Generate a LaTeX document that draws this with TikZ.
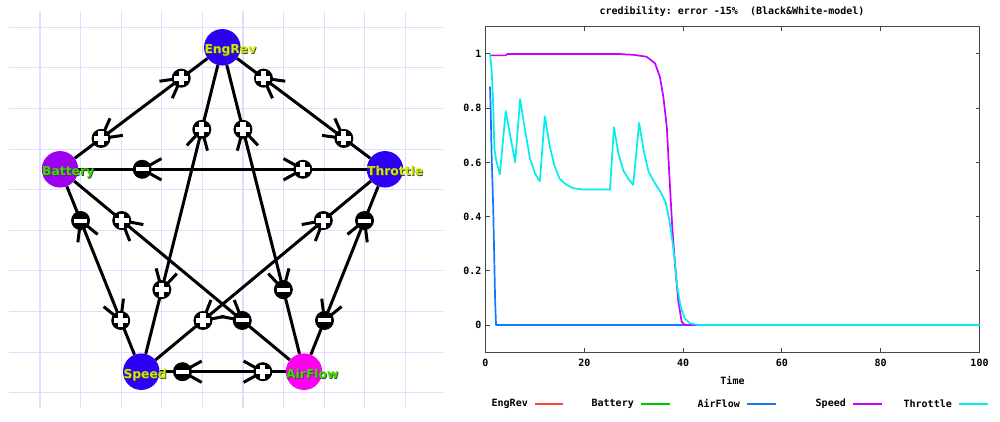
\documentclass[tikz,border=0pt]{standalone}
\usepackage{fontspec}
\setmainfont{DejaVu Sans}
\newfontfamily\lblfont{DejaVu Sans}
\newfontfamily\plotfont{DejaVu Sans Mono}
\usetikzlibrary{calc}

\definecolor{gridc}{RGB}{222,222,255}
\definecolor{nblue}{RGB}{45,0,245}
\definecolor{npurple}{RGB}{160,0,240}
\definecolor{nmag}{RGB}{255,0,240}
\definecolor{lyel}{RGB}{210,235,0}
\definecolor{lgrn}{RGB}{60,220,0}
\definecolor{legred}{RGB}{255,64,64}
\definecolor{leggreen}{RGB}{0,200,0}
\definecolor{cblue}{RGB}{20,120,255}
\definecolor{cpurple}{RGB}{200,0,255}
\definecolor{ccyan}{RGB}{0,238,238}
\definecolor{framec}{RGB}{70,70,70}

\tikzset{
  var/.style={circle, minimum size=36.5pt, inner sep=0pt, fill=#1},
  vlabel/.style={anchor=base west, inner sep=0pt,
    font=\lblfont\bfseries\fontsize{12.3}{14}\selectfont, text=#1},
  link/.style={line width=3pt},
  barb/.style={line width=3pt},
  plusm/.style={circle, fill=black, minimum size=19pt, inner sep=0pt,
    path picture={
      \fill[white] ([xshift=-7pt,yshift=-2.6pt]path picture bounding box.center)
        rectangle ([xshift=7pt,yshift=2.6pt]path picture bounding box.center);
      \fill[white] ([xshift=-2.6pt,yshift=-7pt]path picture bounding box.center)
        rectangle ([xshift=2.6pt,yshift=7pt]path picture bounding box.center);
    }},
  minusm/.style={circle, fill=black, minimum size=19pt, inner sep=0pt,
    path picture={
      \fill[white] ([xshift=-6.5pt,yshift=-2pt]path picture bounding box.center)
        rectangle ([xshift=6.5pt,yshift=2pt]path picture bounding box.center);
    }},
  gridline/.style={gridc, line width=1.1pt},
  ptext/.style={inner sep=0pt, font=\plotfont\bfseries\fontsize{10}{12}\selectfont},
  curve/.style={line width=1.7pt, line join=round},
  legline/.style={line width=2pt, draw=#1},
}

\newcommand\vlab[3]{%
  \node[vlabel=black!75] (#1-sh) at ([xshift=-17.2pt,yshift=-7.4pt]#1.center) {#2};
  \node[vlabel=#3] (#1-lb) at ([xshift=-18pt,yshift=-6.5pt]#1.center) {#2};
}
% #1 target, #2 source, #3 marker style, #4 name
\newcommand\sgnmark[4]{%
  \coordinate (#4) at ($(#1)!0.253!(#2)$);
  \draw[barb] ($(#4)!22pt!29:(#2)$) -- (#4) -- ($(#4)!22pt!-29:(#2)$);
  \node[#3] (#4m) at (#4) {};
}

\begin{document}
\begin{tikzpicture}[x=1pt, y=-1pt]
\useasboundingbox (0,0) rectangle (1000,422);
\fill[white] (0,0) rectangle (1000,422);

% grid
\foreach \k in {0,...,9} {
  \draw[gridline] ({40+40.6*\k},11) -- ({40+40.6*\k},408);
  \draw[gridline] (9,{27.3+40.6*\k}) -- (443,{27.3+40.6*\k});
}

% variables
\node[var=nblue]   (eng) at (222.3,47.3) {};
\node[var=npurple] (bat) at (60,169.3) {};
\node[var=nblue]   (thr) at (385,169.3) {};
\node[var=nblue]   (spd) at (141.3,371.7) {};
\node[var=nmag]    (air) at (304,371.7) {};

% connectors
\draw[link] (eng) -- (bat);
\draw[link] (eng) -- (thr);
\draw[link] (bat) -- (thr);
\draw[link] (eng) -- (spd);
\draw[link] (eng) -- (air);
\draw[link] (bat) -- (spd);
\draw[link] (bat) -- (air);
\draw[link] (thr) -- (spd);
\draw[link] (thr) -- (air);
\draw[link] (spd) -- (air);

% sign markers
\sgnmark{eng}{bat}{plusm}{s1}
\sgnmark{bat}{eng}{plusm}{s2}
\sgnmark{eng}{thr}{plusm}{s3}
\sgnmark{thr}{eng}{plusm}{s4}
\sgnmark{bat}{thr}{minusm}{s5}
\sgnmark{thr}{bat}{plusm}{s6}
\sgnmark{eng}{spd}{plusm}{s7}
\sgnmark{spd}{eng}{plusm}{s8}
\sgnmark{eng}{air}{plusm}{s9}
\sgnmark{air}{eng}{minusm}{s10}
\sgnmark{bat}{spd}{minusm}{s11}
\sgnmark{spd}{bat}{plusm}{s12}
\sgnmark{bat}{air}{plusm}{s13}
\sgnmark{air}{bat}{minusm}{s14}
\sgnmark{thr}{spd}{plusm}{s15}
\sgnmark{spd}{thr}{plusm}{s16}
\sgnmark{thr}{air}{minusm}{s17}
\sgnmark{air}{thr}{minusm}{s18}
\sgnmark{spd}{air}{minusm}{s19}
\sgnmark{air}{spd}{plusm}{s20}

% labels
\vlab{eng}{EngRev}{lyel}
\vlab{bat}{Battery}{lgrn}
\vlab{thr}{Throttle}{lyel}
\vlab{spd}{Speed}{lyel}
\vlab{air}{AirFlow}{lgrn}

% ---------------- chart ----------------
\node[ptext] (title) at (732,11) {credibility:\ error\ -15\%\ \ (Black\&White-model)};

\begin{scope}[shift={(485.5pt,-325pt)}, x=4.94pt, y=271pt]
  \draw[framec, line width=1pt] (0,-0.1) rectangle (100,1.1);
  \foreach \v/\l [count=\i] in {0/0,0.2/0.2,0.4/0.4,0.6/0.6,0.8/0.8,1/1} {
    \draw[framec, line width=1pt] (0,\v) -- ++(4pt,0);
    \draw[framec, line width=1pt] (100,\v) -- ++(-4pt,0);
    \node[ptext, anchor=east] (yl\i) at (-0.8,\v) {\l};
  }
  \foreach \t [count=\i] in {0,20,40,60,80,100} {
    \draw[framec, line width=1pt] (\t,-0.1) -- ++(0,4pt);
    \draw[framec, line width=1pt] (\t,1.1) -- ++(0,-4pt);
    \node[ptext] (xl\i) at (\t,-0.1413) {\t};
  }
  \node[ptext] (xlab) at (50,-0.2066) {Time};

  % AirFlow
  \draw[cblue, curve] plot coordinates {(0.91,0.88) (1.05,0.79) (1.25,0.62) (1.55,0.44)
    (1.75,0.265) (1.95,0.09) (2.13,0) (100,0)};
  % Speed
  \draw[cpurple, curve] plot coordinates {(0.91,0.995) (4,0.995) (4.5,1) (27,1)
    (29.9,0.997) (32.6,0.99) (34.3,0.966) (35.3,0.916) (36,0.842) (36.7,0.731)
    (37.2,0.559) (37.8,0.362) (38.4,0.215) (39.0,0.092) (39.7,0.012) (40.4,0) (43.8,0)};
  % Throttle
  \draw[ccyan, curve] plot coordinates {(0.91,1.0) (1.25,0.94) (1.58,0.80) (1.78,0.655)
    (2.13,0.61) (2.9,0.556) (4.1,0.79) (6.0,0.60) (7.0,0.833) (8.0,0.72) (9.0,0.615)
    (10.0,0.56) (11.0,0.53) (12.0,0.77) (13.0,0.66) (14.0,0.585) (15.0,0.54)
    (16.4,0.517) (17.7,0.505) (19.7,0.5) (25.2,0.5) (26.0,0.73) (26.9,0.633)
    (27.9,0.57) (28.9,0.54) (29.9,0.517) (31.1,0.746) (32.0,0.646) (33.0,0.566)
    (34.3,0.523) (35.6,0.486) (36.5,0.45) (37.2,0.387) (37.8,0.314) (38.3,0.24)
    (38.8,0.141) (39.5,0.068) (40.3,0.025) (41.4,0.006) (43,0) (100,0)};
\end{scope}

% legend
\node[ptext, anchor=east] (lg1) at (528,404) {EngRev};
\draw[legline=legred] (535,404) -- (563,404);
\node[ptext, anchor=east] (lg2) at (634,404) {Battery};
\draw[legline=leggreen] (641,404) -- (670,404);
\node[ptext, anchor=east] (lg3) at (740,404) {AirFlow};
\draw[legline=cblue] (747,404) -- (776,404);
\node[ptext, anchor=east] (lg4) at (846,404) {Speed};
\draw[legline=cpurple] (853,404) -- (882,404);
\node[ptext, anchor=east] (lg5) at (952,404) {Throttle};
\draw[legline=ccyan] (959,404) -- (988,404);
\end{tikzpicture}
\end{document}
